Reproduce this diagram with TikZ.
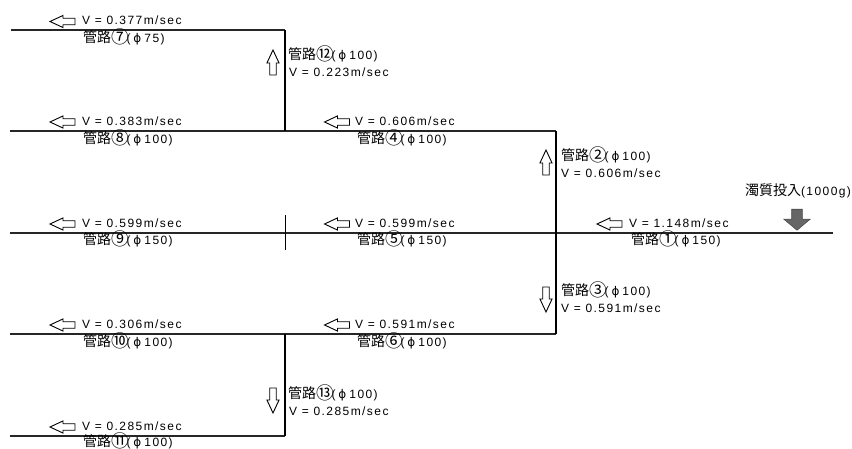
\documentclass[tikz,border=0pt]{standalone}
\usepackage{fontspec}
\usetikzlibrary{shapes.arrows}
\setmainfont[LetterSpace=12]{Liberation Sans}
\newfontfamily\cjk{Noto Sans CJK JP}
\newfontfamily\phifont{DejaVu Sans}
\newcommand{\pipe}[2]{{\cjk\fontsize{14}{14}\selectfont 管路\raisebox{-1.4pt}{\fontsize{17.5}{17}\selectfont #1}}\kern-2pt(\kern3pt{\phifont\fontsize{12}{12}\selectfont ϕ}\kern3pt #2)}
\tikzset{
  x=1pt,y=-1pt,
  every node/.style={font=\fontsize{12}{14}\selectfont,inner sep=0pt,outer sep=0pt},
  lbl/.style={anchor=west,text height=9pt,text depth=2pt},
  hpipe/.style={line width=1.7pt,draw=black!85},
  vpipe/.style={line width=2pt,draw=black},
  flow/.style={single arrow,draw=black,fill=white,line width=0.9pt,minimum height=25pt,
    single arrow head extend=2.8pt,single arrow tip angle=50,single arrow head indent=0pt,inner sep=2.8pt},
  flowleft/.style={flow,shape border rotate=180},
  flowup/.style={flow,shape border rotate=90},
  flowdown/.style={flow,shape border rotate=270},
  dose/.style={single arrow,draw=black!70,fill=black!60,line width=0.6pt,minimum height=21pt,
    single arrow head extend=8pt,single arrow tip angle=100,single arrow head indent=0pt,inner sep=5pt,shape border rotate=270},
}
\begin{document}
\begin{tikzpicture}
\useasboundingbox (0,0) rectangle (852,449);
\fill[white] (0,0) rectangle (852,449);
% junction and end points
\coordinate (e7) at (11,30);
\coordinate (j7) at (285,30);
\coordinate (e8) at (10,131);
\coordinate (j8) at (285,131);
\coordinate (j2) at (556,131);
\coordinate (e9) at (10,233);
\coordinate (j1) at (556,233);
\coordinate (e1) at (833,233);
\coordinate (e10) at (10,334);
\coordinate (j10) at (285,334);
\coordinate (j3) at (556,334);
\coordinate (e11) at (10,436);
\coordinate (j11) at (285,436);
\coordinate (t1) at (285,215);
\coordinate (t2) at (285,250);
% pipes
\draw[hpipe] (e7) -- (j7);
\draw[hpipe] (e8) -- (j8);
\draw[hpipe] (j8) -- (j2);
\draw[hpipe] (e9) -- (j1);
\draw[hpipe] (j1) -- (e1);
\draw[hpipe] (e10) -- (j10);
\draw[hpipe] (j10) -- (j3);
\draw[hpipe] (e11) -- (j11);
\draw[vpipe] (j7) -- (j8);
\draw[vpipe] (j2) -- (j1);
\draw[vpipe] (j1) -- (j3);
\draw[vpipe] (j10) -- (j11);
\draw[line width=0.7pt] (t1) -- (t2);
% horizontal flow arrows
\node[flowleft] (a7) at (66,21.5) {};
\node[flowleft] (a8) at (66,122) {};
\node[flowleft] (a9) at (66,224) {};
\node[flowleft] (a10) at (66,325) {};
\node[flowleft] (a11) at (66,427) {};
\node[flowleft] (a4) at (340.5,122) {};
\node[flowleft] (a5) at (340.5,224) {};
\node[flowleft] (a6) at (340.5,325) {};
\node[flowleft] (a1) at (613,224) {};
% vertical flow arrows
\node[flowup] (a12) at (273,66) {};
\node[flowup] (a2) at (546,166) {};
\node[flowdown] (a3) at (546,296) {};
\node[flowdown] (a13) at (273,397) {};
% velocities
\node[lbl] (v7) at (82,21) {V = 0.377m/sec};
\node[lbl] (v8) at (82,122) {V = 0.383m/sec};
\node[lbl] (v9) at (82,224) {V = 0.599m/sec};
\node[lbl] (v10) at (82,325) {V = 0.306m/sec};
\node[lbl] (v11) at (82,427) {V = 0.285m/sec};
\node[lbl] (v4) at (355,122) {V = 0.606m/sec};
\node[lbl] (v5) at (355,224) {V = 0.599m/sec};
\node[lbl] (v6) at (355,325) {V = 0.591m/sec};
\node[lbl] (v1) at (629,224) {V = 1.148m/sec};
\node[lbl] (v12) at (289,73) {V = 0.223m/sec};
\node[lbl] (v2) at (561,174) {V = 0.606m/sec};
\node[lbl] (v3) at (561,309) {V = 0.591m/sec};
\node[lbl] (v13) at (289,412) {V = 0.285m/sec};
% pipe names
\node[lbl] (p7) at (83,39) {\pipe{⑦}{75}};
\node[lbl] (p8) at (83,140) {\pipe{⑧}{100}};
\node[lbl] (p9) at (83,241) {\pipe{⑨}{150}};
\node[lbl] (p10) at (83,343) {\pipe{⑩}{100}};
\node[lbl] (p11) at (83,442.5) {\pipe{⑪}{100}};
\node[lbl] (p4) at (357,140) {\pipe{④}{100}};
\node[lbl] (p5) at (357,241) {\pipe{⑤}{150}};
\node[lbl] (p6) at (357,343) {\pipe{⑥}{100}};
\node[lbl] (p1) at (631,241) {\pipe{①}{150}};
\node[lbl] (p12) at (288,56) {\pipe{⑫}{100}};
\node[lbl] (p2) at (561,157) {\pipe{②}{100}};
\node[lbl] (p3) at (561,292) {\pipe{③}{100}};
\node[lbl] (p13) at (288,395) {\pipe{⑬}{100}};
% dosing
\node[lbl] (d) at (745,192) {{\cjk\fontsize{14}{14}\selectfont 濁質投入}(1000g)};
\node[dose] (da) at (797,217.5) {};
\end{tikzpicture}
\end{document}
